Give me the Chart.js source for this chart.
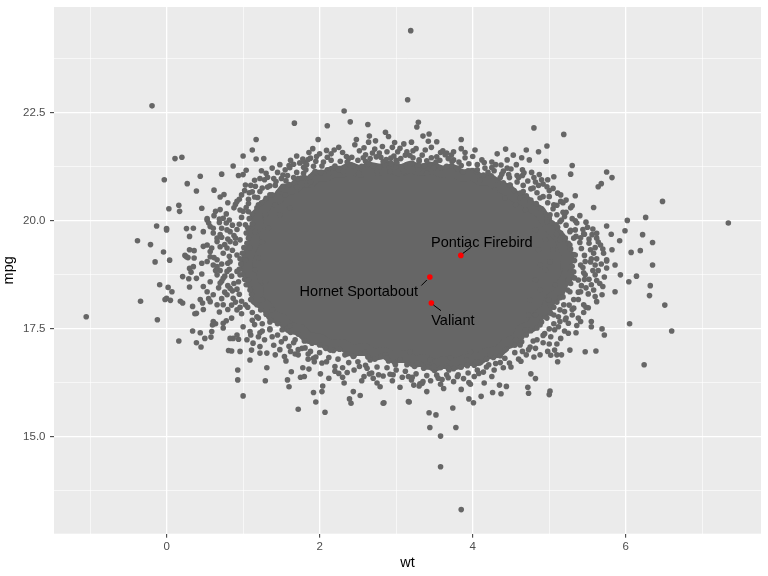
<!DOCTYPE html>
<html><head><meta charset="utf-8">
<script src="https://cdn.jsdelivr.net/npm/chart.js@4"></script>
<style>html,body{margin:0;padding:0;background:#fff}</style>
</head><body>
<canvas id="c" width="768" height="576"></canvas>
<script>
// ---- data (wt, mpg) ----
const xTicks = [-1, 0, 1, 2, 3, 4, 5, 6, 7];
const xMajor = [0, 2, 4, 6];
const yTicks = [13.75, 15, 16.25, 17.5, 18.75, 20, 21.25, 22.5, 23.75];
const yMajor = [15, 17.5, 20, 22.5];

// highlighted cars
const carNames = ["Pontiac Firebird", "Hornet Sportabout", "Valiant"];
const carWt = [3.845, 3.44, 3.46];
const carMpg = [19.2, 18.7, 18.1];

// outline of the fully overplotted (solid) centre of the cloud
const denseOutline = [
[1.039,19.051],[1.092,19.329],[1.144,19.514],[1.118,19.746],[1.196,19.931],[1.170,20.116],[1.248,20.255],[1.327,20.440],[1.458,20.533],[1.536,20.718],
[1.667,20.764],[1.745,20.903],[1.876,20.903],[1.954,21.042],[2.085,21.042],[2.163,21.134],[2.294,21.134],[2.399,21.227],[2.529,21.134],[2.660,21.227],
[2.791,21.181],[2.922,21.250],[3.052,21.158],[3.183,21.250],[3.314,21.181],[3.471,21.227],[3.601,21.134],[3.732,21.181],[3.863,21.042],[3.993,21.088],
[4.098,20.949],[4.229,20.949],[4.333,20.810],[4.464,20.718],[4.542,20.579],[4.673,20.486],[4.752,20.347],[4.882,20.209],[4.961,19.977],[5.039,19.792],
[5.144,19.607],[5.196,19.375],[5.248,19.190],[5.222,18.958],[5.248,18.727],[5.170,18.542],[5.118,18.311],[5.013,18.172],[4.961,17.940],[4.856,17.801],
[4.778,17.570],[4.647,17.477],[4.569,17.246],[4.438,17.153],[4.333,16.968],[4.176,16.922],[4.072,16.783],[3.915,16.783],[3.784,16.690],[3.627,16.736],
[3.497,16.644],[3.366,16.783],[3.235,16.736],[3.105,16.875],[2.974,16.829],[2.843,16.945],[2.712,16.898],[2.582,17.037],[2.425,16.991],[2.294,17.130],
[2.137,17.107],[2.007,17.246],[1.850,17.292],[1.745,17.477],[1.614,17.523],[1.510,17.709],[1.379,17.801],[1.301,18.033],[1.170,18.172],[1.196,18.403],
[1.118,18.542],[1.092,18.774],[1.039,18.912],[1.039,19.051]
];

// crowded points straddling the edge of the solid centre
const cloudEdge = [
[2.02,21.12],[2.10,21.18],[2.18,21.22],[2.25,21.19],[2.33,21.24],[2.40,21.30],[2.47,21.22],[2.55,21.26],[2.62,21.30],[2.70,21.27],[2.78,21.24],[2.85,21.30],[2.93,21.33],[3.00,21.26],[3.07,21.22],[3.14,21.30],[3.21,21.33],[3.28,21.26],[3.36,21.27],[3.44,21.31],[3.51,21.28],[3.58,21.22],[3.65,21.24],[3.72,21.27],[3.80,21.20],[3.87,21.13],[3.94,21.16],
[2.05,21.36],[2.15,21.40],[2.27,21.38],[2.38,21.44],[2.50,21.40],[2.57,21.46],[2.66,21.44],[2.74,21.48],[2.87,21.42],[2.97,21.50],[3.06,21.44],[3.12,21.52],[3.22,21.46],[3.34,21.52],[3.46,21.46],[3.57,21.40],[3.68,21.44],[3.82,21.36],[3.95,21.32],
[2.25,21.70],[2.73,21.85],[3.10,21.78],[3.46,21.70],[3.75,21.60],
[1.12,20.15],[1.18,20.30],[1.24,20.42],[1.30,20.52],[1.38,20.60],[1.46,20.66],[1.52,20.80],[1.60,20.84],[1.67,20.88],[1.72,20.98],[1.80,21.00],[1.88,21.02],[1.95,21.12],
[1.00,20.22],[1.07,20.40],[1.15,20.55],[1.22,20.68],[1.32,20.78],[1.42,20.82],[1.50,20.98],[1.58,21.05],[1.70,21.12],[1.82,21.18],[1.92,21.26],
[0.88,20.30],[0.98,20.60],[1.10,20.82],[1.28,20.95],[1.45,21.12],[1.60,21.28],[1.80,21.36],
[1.08,20.05],[1.12,19.93],[1.06,19.84],[1.04,19.72],[1.07,19.60],[1.05,19.48],[1.01,19.38],[0.99,19.25],[0.96,19.12],[0.97,19.00],[0.95,18.88],[1.00,18.76],[1.02,18.65],[1.04,18.52],[1.10,18.42],[1.11,18.30],[1.10,18.18],[1.18,18.06],[1.23,17.94],[1.30,17.84],
[0.98,20.08],[0.95,19.92],[0.92,19.80],[0.88,19.66],[0.90,19.48],[0.86,19.32],[0.82,19.18],[0.80,19.02],[0.82,18.88],[0.85,18.72],[0.88,18.55],[0.92,18.42],[0.95,18.30],[0.98,18.14],[1.06,18.00],[1.12,17.88],[1.18,17.78],
[0.78,19.95],[0.72,19.62],[0.70,19.40],[0.66,19.10],[0.70,18.85],[0.72,18.60],[0.76,18.35],[0.85,18.05],[0.98,17.85],
[1.36,17.70],[1.45,17.62],[1.53,17.50],[1.62,17.42],[1.72,17.38],[1.80,17.22],[1.90,17.17],[2.00,17.13],
[1.25,17.62],[1.35,17.50],[1.45,17.36],[1.55,17.28],[1.66,17.18],[1.77,17.05],[1.88,16.98],[2.00,16.95],
[1.20,17.32],[1.40,17.12],[1.62,16.98],[1.85,16.80],
[2.08,17.05],[2.18,17.00],[2.26,17.03],[2.36,16.92],[2.45,16.88],[2.54,16.94],[2.63,16.85],[2.72,16.80],[2.80,16.86],[2.90,16.76],[2.98,16.72],[3.06,16.78],[3.15,16.70],[3.24,16.63],[3.32,16.68],[3.41,16.62],[3.50,16.54],[3.58,16.60],[3.66,16.63],[3.75,16.58],[3.84,16.62],[3.93,16.68],[4.02,16.66],[4.10,16.72],[4.18,16.80],[4.27,16.84],[4.36,16.88],[4.44,17.04],
[2.12,16.84],[2.24,16.80],[2.38,16.72],[2.50,16.74],[2.60,16.66],[2.75,16.62],[2.88,16.60],[3.00,16.55],[3.12,16.52],[3.26,16.46],[3.40,16.42],[3.55,16.36],[3.66,16.44],[3.80,16.40],[3.94,16.48],[4.06,16.55],[4.18,16.62],[4.30,16.70],[4.42,16.82],[4.55,16.95],
[2.30,16.60],[2.58,16.40],[2.95,16.30],[3.30,16.18],[3.62,16.12],[3.95,16.26],[4.25,16.40],[4.50,16.62],
[4.55,17.12],[4.64,17.20],[4.70,17.36],[4.76,17.46],[4.84,17.52],[4.90,17.66],[4.95,17.78],[5.02,17.86],[5.06,18.00],[5.10,18.12],[5.18,18.24],
[4.65,16.98],[4.75,17.08],[4.84,17.25],[4.92,17.35],[5.00,17.50],[5.06,17.62],[5.12,17.78],[5.20,17.90],[5.26,18.05],[5.32,18.18],
[4.80,16.85],[5.00,17.15],[5.20,17.45],[5.38,17.75],[5.48,18.00],
[5.24,18.40],[5.28,18.55],[5.33,18.68],[5.32,18.82],[5.30,18.95],[5.33,19.08],[5.32,19.22],[5.28,19.35],[5.25,19.48],[5.21,19.60],[5.15,19.72],[5.10,19.84],[5.04,19.95],[5.00,20.06],
[5.38,18.35],[5.42,18.50],[5.46,18.64],[5.45,18.80],[5.44,18.92],[5.47,19.06],[5.46,19.20],[5.42,19.36],[5.40,19.50],[5.35,19.64],[5.28,19.78],[5.22,19.90],[5.16,20.02],[5.10,20.14],
[5.58,18.40],[5.62,18.62],[5.64,18.85],[5.62,19.12],[5.60,19.38],[5.52,19.58],[5.44,19.80],[5.36,19.95],
[4.96,20.14],[4.90,20.28],[4.83,20.40],[4.76,20.48],[4.70,20.58],[4.62,20.64],[4.54,20.70],[4.48,20.82],[4.40,20.88],[4.32,20.94],[4.24,21.04],[4.14,21.06],[4.05,21.14],
[5.05,20.28],[4.98,20.42],[4.92,20.56],[4.84,20.65],[4.76,20.74],[4.66,20.82],[4.58,20.90],[4.48,21.00],[4.38,21.08],[4.28,21.16],[4.16,21.22],[4.06,21.30],
[5.15,20.45],[5.00,20.70],[4.82,20.90],[4.65,21.05],[4.45,21.22],[4.25,21.36]
];

// busy halo a little further out
const cloudHalo = [
[1.30,21.10],[1.38,21.22],[1.48,21.30],[1.55,21.18],[1.62,21.40],[1.70,21.50],[1.86,21.58],[1.40,20.98],[1.52,21.06],[1.16,20.80],[1.22,20.98],[1.08,20.65],[0.95,20.50],[0.90,20.38],[1.02,20.70],[1.95,21.38],[2.00,21.55],[1.85,21.42],
[2.15,21.55],[2.30,21.58],[2.52,21.62],[2.72,21.66],[2.88,21.60],[3.05,21.68],[3.22,21.62],[3.38,21.64],[3.58,21.58],[3.72,21.52],[3.90,21.58],[2.36,21.36],[2.60,21.38],[2.80,21.47],[3.00,21.40],[3.30,21.38],[3.52,21.36],[3.85,21.28],[2.48,21.88],[2.95,21.70],[3.20,21.82],
[4.15,21.35],[4.30,21.30],[4.50,21.20],[4.65,21.18],[4.80,21.00],[4.92,20.85],[5.05,20.75],[5.15,20.60],[5.22,20.48],[5.28,20.30],[4.20,21.12],[4.40,21.15],[4.58,21.05],[4.72,20.92],[4.86,20.82],[5.00,20.56],[5.10,20.36],[5.18,20.20],
[5.50,19.85],[5.45,19.70],[5.52,19.48],[5.58,19.25],[5.55,19.12],[5.60,18.98],[5.57,18.85],[5.52,18.65],[5.48,18.45],[5.62,19.60],[5.70,19.35],[5.68,19.00],[5.72,18.70],[5.66,18.55],[5.40,20.12],[5.30,20.05],[5.20,20.10],
[5.38,18.18],[5.30,17.95],[5.22,17.75],[5.12,17.55],[5.02,17.32],[4.92,17.18],[4.82,17.05],[4.70,16.90],[4.60,16.80],[5.45,17.88],[5.36,17.58],[5.25,17.40],[5.10,17.15],[4.98,16.98],
[2.20,16.52],[2.45,16.55],[2.68,16.48],[2.92,16.45],[3.08,16.38],[3.20,16.32],[3.45,16.30],[3.58,16.22],[3.75,16.28],[3.88,16.35],[4.02,16.40],[4.14,16.50],[4.28,16.55],[4.40,16.60],[2.55,16.30],[2.75,16.25],[3.05,16.15],[3.40,16.05],[3.85,16.10],[4.15,16.25],[2.30,16.38],
[1.15,17.60],[1.25,17.45],[1.38,17.32],[1.50,17.20],[1.60,17.10],[1.72,17.02],[1.85,16.92],[1.95,16.85],[1.10,17.36],[1.28,17.25],[1.48,17.02],[1.68,16.92],[1.12,17.70],
[0.62,20.12],[0.78,20.16],[0.86,19.90],[0.80,19.58],[0.76,19.45],[0.74,19.25],[0.72,19.00],[0.76,18.72],[0.80,18.50],[0.86,18.38],[0.90,18.12],[0.96,18.00],[0.66,19.60],[0.62,19.15],[0.64,18.85],[0.68,18.45],[0.72,18.20],[0.80,17.95]
];

// individually visible points further out
const fringe = [
[3.19,24.40],[3.15,22.80],[-0.19,22.66],[-1.05,17.78],[7.34,19.95],[3.85,13.32],[3.58,14.31],[6.48,20.45],
[1.67,22.26],[1.17,21.88],[0.11,21.44],[0.20,21.47],[1.12,21.64],[1.00,21.50],[1.17,21.43],[1.27,21.44],[0.87,21.27],[1.04,21.17],[0.94,21.05],[0.72,21.08],[0.44,21.03],[-0.03,20.95],[0.27,20.86],[0.39,20.69],[0.62,20.71],[0.70,20.55],[0.75,20.61],[0.80,20.42],[0.92,20.45],[1.07,20.50],[1.19,20.54],[1.15,20.94],[1.24,21.16],[1.32,21.01],[1.43,20.91],[1.56,20.93],[1.61,21.23],[1.66,21.31],[1.74,21.34],[1.78,21.43],[1.79,21.24],[1.66,21.00],[1.77,20.99],[0.16,20.36],[0.03,20.28],[0.17,20.22],[0.46,20.29],[0.64,20.22],[0.70,20.26],[0.96,20.25],[1.04,20.31],[0.53,20.05],[-0.13,19.88],[0.00,19.82],[0.26,19.82],[0.35,19.83],[0.55,19.95],[0.69,20.04],[0.82,20.02],[1.35,20.81],[1.70,20.79],[1.83,20.83],[1.00,21.07],
[2.32,22.54],[2.40,22.29],[2.10,22.20],[2.63,22.23],[2.86,22.05],[2.90,21.95],[2.65,21.96],[3.29,22.28],[3.27,22.17],[1.98,21.88],[2.64,21.82],[2.98,21.81],[3.35,21.96],[3.43,22.01],[3.42,21.84],[3.53,21.83],[1.91,21.67],[2.09,21.63],[2.19,21.64],[2.46,21.76],[2.58,21.69],[2.82,21.72],[3.02,21.60],[3.14,21.60],[3.26,21.67],[3.61,21.62],[3.66,21.57],[1.88,21.45],[1.96,21.49],[2.10,21.47],[2.35,21.49],[2.42,21.47],[2.60,21.53],[2.69,21.57],[2.78,21.57],[2.93,21.45],[3.18,21.51],[3.30,21.41],[3.40,21.39],[3.53,21.48],[3.75,21.41],[1.83,21.30],[2.03,21.27],[2.20,21.27],[2.44,21.27],[2.64,21.33],[2.83,21.37],[3.01,21.34],[3.18,21.31],[3.29,21.18],[3.49,21.22],[3.66,21.26],[3.79,21.22],[1.79,21.10],[1.94,21.14],[2.12,21.10],[2.31,21.14],[2.51,21.10],[2.75,21.14],[2.92,21.14],[3.10,21.14],[3.40,21.10],[1.88,20.90],
[4.80,22.15],[5.19,22.00],[3.85,21.88],[3.85,21.67],[4.97,21.73],[4.43,21.66],[4.70,21.64],[4.32,21.55],[4.53,21.52],[4.86,21.60],[4.64,21.46],[4.74,21.41],[4.96,21.38],[4.00,21.49],[4.06,21.18],[4.45,21.41],[4.57,21.30],[4.37,21.29],[5.30,21.28],[5.28,21.08],[5.75,21.13],[5.82,21.00],[5.68,20.86],[5.64,20.79],[4.67,21.11],[4.77,21.12],[4.87,21.07],[5.06,21.02],[4.98,20.95],[4.90,20.95],[4.60,21.00],[4.47,21.07],[4.79,20.76],[4.97,20.79],[5.11,20.64],[5.34,20.58],[5.18,20.42],[5.30,20.35],[5.22,20.20],[5.58,20.31],[5.34,20.00],[5.48,19.97],[5.75,19.88],[5.57,19.81],[5.62,19.71],[5.81,19.69],[5.46,19.69],[5.27,19.75],[5.11,19.85],[5.01,20.14],[5.06,20.37],[4.88,20.53],[4.88,20.29],[4.97,19.98],[5.14,19.98],[5.10,19.69],[5.32,19.60],[4.66,20.68],
[3.64,21.53],[3.73,21.37],[3.90,21.46],[4.03,21.64],[4.12,21.41],[4.25,21.23],[4.36,21.00],[4.49,20.83],[4.10,20.95],[4.29,20.72],[4.42,20.53],[4.56,20.37],[4.69,20.25],[4.62,20.53],[4.75,20.44],
[6.02,20.01],[6.26,20.08],[5.99,19.77],[5.92,19.54],[6.22,19.68],[6.35,19.50],[6.07,19.27],[6.19,19.31],[6.35,18.98],[6.04,18.59],[6.14,18.72],[6.32,18.50],[5.64,19.51],[5.71,19.25],[5.75,19.07],[5.75,18.91],[5.55,18.52],[5.70,18.48],
[6.31,18.27],[6.51,18.05],[6.05,17.62],[6.60,17.45],[6.24,16.67],[5.86,18.36],[5.69,18.29],[5.62,18.13],[5.55,17.67],[5.55,17.55],[5.69,17.50],[5.72,17.36],[5.61,16.99],[5.47,16.97],[5.27,17.01],[5.07,17.01],[5.10,16.90],[5.15,17.28],[5.35,17.41],[4.94,17.39],[5.07,17.48],[4.88,16.90],[5.11,16.74],[5.75,19.10],[5.41,18.36],[5.51,18.31],[5.60,18.25],[5.45,18.06],[5.32,17.98],[5.19,18.06],[5.06,17.82],[4.97,17.75],[5.41,17.67],[5.30,17.82],[5.14,17.67],[4.88,17.59],
[5.14,19.56],[5.27,19.44],[5.41,19.61],[5.34,19.21],[5.54,19.05],[5.47,18.75],[5.21,18.87],[5.08,18.52],[5.27,18.36],[4.99,18.17],[5.14,17.94],[5.54,19.33],[5.01,19.05],[4.95,19.56],[5.09,19.91],[5.34,19.79],[5.56,19.68],[5.41,18.98],[5.25,18.63],[5.05,19.33],[5.51,17.99],[5.14,18.22],[4.95,18.87],[4.88,18.40],[5.01,18.06],[4.82,17.82],[4.75,17.48],[4.62,17.13],[5.21,17.71],[5.38,18.63],[5.60,18.75],[5.67,19.44],[5.82,19.33],[5.86,18.98],[5.93,18.75],
[4.82,19.79],[4.86,19.33],[4.88,18.98],[4.82,18.63],[4.75,18.17],[4.73,17.82],
[5.02,16.89],[4.63,16.75],[4.48,16.71],[4.79,17.22],[4.73,17.02],[4.76,16.46],[4.82,16.35],[4.72,16.15],[4.73,16.01],[5.01,16.06],[5.00,15.98],[4.35,16.20],[4.44,16.17],[4.26,16.03],[4.37,16.00],[4.08,16.47],[3.97,16.22],[4.11,15.94],[3.95,15.88],[4.01,15.79],[3.74,15.67],[3.43,15.56],[3.52,15.51],[3.44,15.22],[3.78,15.22],[3.58,15.02],[3.17,15.81],[3.68,16.59],[3.68,16.37],[3.60,16.33],[3.53,16.43],[3.34,16.24],[3.23,16.20],[3.21,16.38],[3.85,16.62],[3.93,16.65],[2.84,15.79],
[3.31,16.23],[3.35,16.28],[3.69,16.55],[3.81,16.44],[4.21,16.67],[4.36,16.72],[5.16,16.90],[5.25,17.63],[3.14,16.67],[3.27,16.71],[3.36,16.59],[3.49,16.63],[3.92,16.78],[4.05,16.74],
[2.14,17.01],[2.33,16.90],[2.59,16.97],[2.86,16.90],[3.18,16.97],[3.44,16.78],[3.71,16.83],[3.97,16.97],[4.23,16.90],[4.42,17.01],[4.56,17.25],[4.69,17.48],
[0.16,17.22],[0.34,17.45],[0.44,17.41],[0.39,17.18],[0.45,17.08],[0.50,17.28],[0.58,17.31],[0.59,17.44],[0.60,17.59],[0.64,17.62],[0.74,17.63],[0.34,18.02],[0.39,17.86],[0.47,18.10],[0.57,18.13],[0.69,17.89],[0.78,17.69],[0.85,17.75],[0.81,17.00],[0.85,16.99],[0.96,16.98],[0.87,17.28],[0.94,17.26],[0.93,16.55],[0.93,16.32],[1.00,15.95],[1.09,16.78],[1.31,16.60],[1.29,16.30],[1.11,17.01],[1.22,16.94],[1.31,16.94],[1.05,17.25],[1.13,17.17],[1.22,17.09],[1.00,17.55],[1.09,17.44],[1.22,17.41],[1.35,17.48],[1.42,16.90],[1.54,16.86],[1.56,16.76],[1.63,16.51],[1.58,16.32],[1.60,16.16],[1.72,16.90],[1.78,16.60],[1.86,16.57],[1.75,16.38],[1.80,16.40],[1.72,15.64],[1.92,16.82],[1.93,16.74],[2.03,16.71],[2.09,16.74],[2.01,16.46],[2.12,16.36],[2.04,16.18],[2.03,16.05],[1.92,16.03],[1.95,15.81],[2.07,15.57],[2.20,16.63],[2.25,16.47],[2.36,16.49],[2.32,16.25],[2.44,16.05],[2.53,15.96],[2.39,15.88],[2.41,15.78],[2.52,16.63],[2.62,16.59],[2.65,16.46],[2.70,16.36],[2.79,16.16],[2.83,15.78],[2.77,16.44],[2.83,16.41],[2.96,16.44],[2.99,16.67],[3.16,16.40],[3.16,15.82],[2.44,16.86],[2.66,16.78],[2.88,16.82],[3.05,16.78],
[-0.34,18.14],[-0.12,17.71],[-0.02,18.18],[0.05,18.16],[0.18,18.14],[0.21,18.10],[0.37,17.85],[0.48,17.95],[0.44,18.18],[0.55,18.20],
[-0.38,19.54],[-0.21,19.45],[0.00,19.79],[-0.04,19.28],[0.04,19.09],[-0.15,19.05],[-0.09,18.52],[0.02,18.46],[0.07,18.36],[0.00,18.21],[0.24,19.20],[0.28,19.15],[0.36,19.14],[0.30,19.33],[0.36,19.31],[0.30,19.64],[0.48,19.75],[0.53,20.02],[0.57,19.87],[0.74,20.06],[0.72,19.83],[0.30,18.90],[0.32,18.81],[0.21,18.71],[0.29,18.66],[0.30,18.47],[0.39,18.67],[0.46,18.77],[0.48,18.48],[0.53,18.36],[0.61,18.29],
[0.53,19.44],[0.59,19.37],[0.57,19.17],[0.53,19.06],[0.61,18.98],[0.66,18.75],[0.74,18.67],[0.57,18.59],[0.70,18.56],[0.79,18.83],[0.83,18.44],[0.79,18.29],[0.87,18.21],[0.66,18.06],[0.74,18.06],[0.61,17.67],[0.92,17.94],[0.74,17.52],[0.83,17.28],[0.92,17.36],[0.61,19.83],[0.70,19.68],[0.83,19.75],[0.90,19.60],[0.66,19.52],[0.79,19.37],[0.92,19.21],[0.83,19.06],[0.92,18.83],[0.94,18.59],
[0.26,19.17],[0.35,18.94],[0.48,19.41],[0.46,19.02],[0.57,19.29],[0.61,19.72],[0.69,19.96],[0.79,19.79],[0.83,19.52],[0.66,18.94],
[1.03,20.83],[1.12,20.67],[1.25,20.76],[1.35,20.60],[1.20,20.37],[1.07,20.21],[1.29,20.14],[1.42,20.37],[1.55,20.60],[1.48,20.14],[1.61,20.30],[1.03,19.91],[1.16,19.75],[1.33,19.84],[0.96,19.56],[1.09,19.37],[1.25,19.51],[1.03,19.10],[1.16,18.87],[0.96,18.75],[1.09,18.40],[1.03,18.06],[1.20,17.75],[1.35,17.66],[1.51,17.48],[1.68,17.25],[1.81,17.06],[1.25,18.17],[1.38,17.94],[1.61,17.57],[1.20,19.14],[1.07,18.63],[1.29,18.59]
];

// ---- styling / layout ----
const POINT_GREY = '#666666';
const FONT = "'Liberation Sans', Arial, Helvetica, sans-serif";
// label placement relative to the highlighted point (pixels)
const labelStyle = [
  {dx: 21, dy: -8.6, seg: [2, -2, 10, -8]},
  {dx: -71, dy: 18.5, seg: [-3, 3, -8.5, 8.5]},
  {dx: 21.5, dy: 22.3, seg: [2, 2, 9.6, 7.7]}
];

const toXY = arr => arr.map(p => ({x: p[0], y: p[1]}));
const isIn = (list, v) => list.some(m => Math.abs(m - v) < 1e-9);

const panelBg = {
  id: 'panelBg',
  beforeDraw(chart) {
    const {ctx, chartArea: a} = chart;
    ctx.save();
    ctx.fillStyle = '#EBEBEB';
    ctx.fillRect(a.left, a.top, a.right - a.left, a.bottom - a.top);
    ctx.restore();
  }
};

const labelsAndTitles = {
  id: 'labelsAndTitles',
  afterDatasetsDraw(chart) {
    const {ctx, scales} = chart;
    ctx.save();
    ctx.font = '14.5px ' + FONT;
    ctx.fillStyle = '#000';
    ctx.strokeStyle = '#000';
    ctx.lineWidth = 1;
    ctx.textAlign = 'center';
    ctx.textBaseline = 'alphabetic';
    carNames.forEach((name, i) => {
      const px = scales.x.getPixelForValue(carWt[i]);
      const py = scales.y.getPixelForValue(carMpg[i]);
      const s = labelStyle[i];
      ctx.beginPath();
      ctx.moveTo(px + s.seg[0], py + s.seg[1]);
      ctx.lineTo(px + s.seg[2], py + s.seg[3]);
      ctx.stroke();
      ctx.fillText(name, px + s.dx, py + s.dy);
    });
    ctx.restore();
  },
  afterDraw(chart) {
    const {ctx, chartArea: a} = chart;
    ctx.save();
    ctx.font = '14.5px ' + FONT;
    ctx.fillStyle = '#000';
    ctx.textAlign = 'center';
    ctx.textBaseline = 'alphabetic';
    ctx.fillText('wt', (a.left + a.right) / 2, 567);
    ctx.translate(12.7, (a.top + a.bottom) / 2);
    ctx.rotate(-Math.PI / 2);
    ctx.fillText('mpg', 0, 0);
    ctx.restore();
  }
};

const pointSet = (arr, colour, order) => ({
  data: toXY(arr), pointRadius: 2.8, pointHoverRadius: 2.8, backgroundColor: colour, borderWidth: 0, order
});

new Chart(document.getElementById('c'), {
  type: 'scatter',
  data: {
    datasets: [
      {type: 'line', data: toXY(denseOutline), fill: 'shape', tension: 0, pointRadius: 0, pointHoverRadius: 0,
       backgroundColor: POINT_GREY, borderColor: POINT_GREY, borderWidth: 12, borderJoinStyle: 'round', borderCapStyle: 'round', order: 5},
      pointSet(cloudEdge, POINT_GREY, 4),
      pointSet(cloudHalo, POINT_GREY, 3),
      pointSet(fringe, POINT_GREY, 2),
      {data: carNames.map((n, i) => ({x: carWt[i], y: carMpg[i]})), pointRadius: 2.8, pointHoverRadius: 2.8, backgroundColor: '#FF0000', borderWidth: 0, order: 1}
    ]
  },
  options: {
    responsive: false,
    animation: false,
    events: [],
    layout: {padding: {left: 0, top: 7, right: 7, bottom: 0}},
    plugins: {legend: {display: false}, tooltip: {enabled: false}, filler: {propagate: false, drawTime: 'beforeDatasetsDraw'}},
    scales: {
      x: {
        type: 'linear', min: -1.471, max: 7.767,
        afterBuildTicks: s => { s.ticks = xTicks.map(v => ({value: v})); },
        afterFit: s => { s.height = 42.3; s.paddingLeft = 0; s.paddingRight = 0; },
        border: {display: false},
        grid: {
          color: '#FFFFFF',
          lineWidth: c => (c.tick && isIn(xMajor, c.tick.value)) ? 1.3 : 0.6,
          drawTicks: true, tickLength: 4, tickWidth: 1,
          tickColor: c => (c.tick && isIn(xMajor, c.tick.value)) ? '#333333' : 'rgba(0,0,0,0)'
        },
        ticks: {
          autoSkip: false, maxRotation: 0, padding: 2, color: '#4D4D4D',
          font: {family: FONT, size: 11.5},
          callback: v => isIn(xMajor, v) ? String(v) : ''
        }
      },
      y: {
        type: 'linear', min: 12.762, max: 24.947,
        afterBuildTicks: s => { s.ticks = yTicks.map(v => ({value: v})); },
        afterFit: s => { s.width = 54; s.paddingTop = 0; s.paddingBottom = 0; },
        border: {display: false},
        grid: {
          color: '#FFFFFF',
          lineWidth: c => (c.tick && isIn(yMajor, c.tick.value)) ? 1.3 : 0.6,
          drawTicks: true, tickLength: 4, tickWidth: 1,
          tickColor: c => (c.tick && isIn(yMajor, c.tick.value)) ? '#333333' : 'rgba(0,0,0,0)'
        },
        ticks: {
          autoSkip: false, padding: 4.5, color: '#4D4D4D',
          font: {family: FONT, size: 11.5},
          callback: v => isIn(yMajor, v) ? v.toFixed(1) : ''
        }
      }
    }
  },
  plugins: [panelBg, labelsAndTitles]
});
</script>
</body></html>
